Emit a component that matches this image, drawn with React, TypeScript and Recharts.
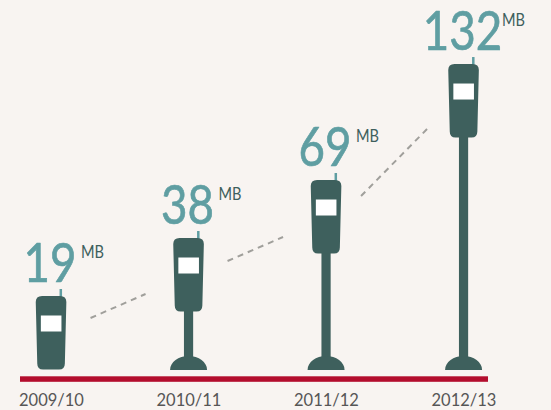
import React from 'react';
import { BarChart, Bar, XAxis, YAxis, LabelList } from 'recharts';

const seasons = ['2009/10', '2010/11', '2011/12', '2012/13'];
const megabytes = [19, 38, 69, 132];
// the poles in the original are not to scale, these are the steps read off the picture
const poleSteps = [0, 1, 2, 4];
const PHONE_STEPS = 1.276;

const chartData = seasons.map((season, i) => ({
  season,
  megabytes: megabytes[i],
  reach: poleSteps[i] + PHONE_STEPS,
}));

const PHONE = '#3e605d';
const TEAL = '#5f9ea2';
const RED = '#b30d2d';
const PAPER = '#f8f4f1';
const FONT = 'Lato, "Open Sans", sans-serif';

const connectorStart = [22, 23, 16];
const connectorEnd = [56, 57, 65];
const connectorFrom = [39.5, 39, 35];
const connectorTo = [43, 43, 36.5];

const PhoneBar = (props: any) => {
  const { x, y, width, height, index } = props;
  const cx = x + width / 2;
  const bottom = y + height;
  const perStep = height / chartData[index].reach;
  const phoneBottom = y + 73.5;
  const hasPole = poleSteps[index] > 0;
  const next = chartData[index + 1];

  return (
    <g>
      {next && (
        <line
          x1={cx + connectorFrom[index]}
          y1={y + connectorStart[index]}
          x2={cx + 137.5 - connectorTo[index]}
          y2={bottom - next.reach * perStep + connectorEnd[index]}
          stroke="#a09f9b"
          strokeWidth={2}
          strokeDasharray="6 5"
        />
      )}
      <rect x={cx + 8.5} y={y - 7} width={2.5} height={9} fill={TEAL} />
      {hasPole && (
        <>
          <rect x={cx - 4.6} y={phoneBottom - 2} width={9.2} height={bottom - phoneBottom + 2} fill={PHONE} />
          <path
            d={`M${cx - 18.5} ${bottom} C${cx - 18.5} ${bottom - 8} ${cx - 10} ${bottom - 14} ${cx} ${bottom - 14} C${cx + 10} ${bottom - 14} ${cx + 18.5} ${bottom - 8} ${cx + 18.5} ${bottom} Z`}
            fill={PHONE}
          />
        </>
      )}
      <path
        d={`M${cx - 15.3} ${y + 6} Q${cx - 15.3} ${y} ${cx - 9} ${y}
            L${cx + 9} ${y} Q${cx + 15.3} ${y} ${cx + 15.3} ${y + 6}
            L${cx + 13.8} ${phoneBottom - 6} Q${cx + 13.8} ${phoneBottom} ${cx + 8} ${phoneBottom}
            L${cx - 8} ${phoneBottom} Q${cx - 13.8} ${phoneBottom} ${cx - 13.8} ${phoneBottom - 6} Z`}
        fill={PHONE}
      />
      <rect x={cx - 10.2} y={y + 19.5} width={20.6} height={16} fill="#ffffff" />
    </g>
  );
};

const ValueLabel = (props: any) => {
  const { x, y, width, value } = props;
  const cx = x + width / 2;
  const digits = String(value).length;
  const textWidth = digits * 26.5;
  return (
    <g fontFamily={FONT}>
      <text
        x={cx - 1 - textWidth / 2}
        y={y - 14.5}
        fontSize={55}
        fill={TEAL}
        stroke={TEAL}
        strokeWidth={0.7}
        strokeLinejoin="round"
        textLength={textWidth}
        lengthAdjust="spacingAndGlyphs"
      >
        {value}
      </text>
      <text
        x={cx + 13 + digits * 8.5}
        y={y - 38.5}
        fontSize={16.5}
        fill={PHONE}
        textLength={23}
        lengthAdjust="spacingAndGlyphs"
      >
        MB
      </text>
    </g>
  );
};

export default function App() {
  return (
    <div style={{ position: 'absolute', left: 0, top: 0, width: 551, height: 410, background: PAPER, overflow: 'hidden' }}>
      <BarChart
        width={551}
        height={410}
        data={chartData}
        margin={{ top: 0, right: 18.25, bottom: 0, left: -17.25 }}
        barSize={30.6}
      >
        <XAxis
          dataKey="season"
          axisLine={false}
          tickLine={false}
          height={40}
          interval={0}
          tickMargin={18}
          tick={{ fontSize: 16.5, fill: '#565656', fontFamily: FONT }}
        />
        <YAxis hide domain={[0, 6.38]} />
        <Bar dataKey="reach" shape={PhoneBar} isAnimationActive={false}>
          <LabelList dataKey="megabytes" content={ValueLabel} />
        </Bar>
        <rect x={20} y={376.3} width={468} height={5.5} fill={RED} />
      </BarChart>
    </div>
  );
}
